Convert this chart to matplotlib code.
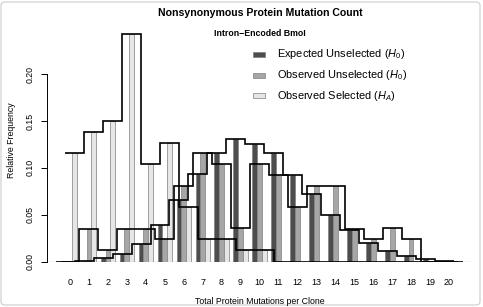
import numpy as np
import matplotlib
matplotlib.use("Agg")
import matplotlib.pyplot as plt
from matplotlib.patches import Rectangle, FancyBboxPatch

# ---- data ----
categories = list(range(21))
tick_labels = [str(c) for c in categories]
expected_unselected = [0.0002, 0.001, 0.0036, 0.008, 0.0185, 0.039, 0.066, 0.094, 0.1156, 0.1305,
                       0.1255, 0.1156, 0.0925, 0.0718, 0.0498, 0.034, 0.0196, 0.0117, 0.006, 0.003, 0.001]
observed_unselected = [0.0, 0.035, 0.0125, 0.035, 0.035, 0.024, 0.081, 0.1156, 0.104, 0.036,
                       0.104, 0.0925, 0.058, 0.0807, 0.0807, 0.0352, 0.024, 0.0356, 0.024, 0.0, 0.0]
observed_selected = [0.1156, 0.1386, 0.1503, 0.2424, 0.104, 0.127, 0.058, 0.024, 0.024, 0.012,
                     0.012, 0.0, 0.0, 0.0, 0.0, 0.0, 0.0, 0.0, 0.0, 0.0, 0.0]
series_names = [r"Expected Unselected ($H_0$)", r"Observed Unselected ($H_0$)", r"Observed Selected ($H_A$)"]

plt.rcParams['font.family'] = ['Liberation Sans', 'DejaVu Sans']
plt.rcParams['mathtext.fontset'] = 'custom'
plt.rcParams['mathtext.rm'] = 'Liberation Sans'
plt.rcParams['mathtext.it'] = 'Liberation Sans:italic'

W, H = 483, 307
fig = plt.figure(figsize=(W / 100, H / 100), dpi=100)

def fx(px):
    return px / W

def fy(py):
    return 1 - py / H

# axes geometry (pixels)
left_px, right_px = 47, 472
bot_px, top_px = 261.7, 27.2
unit = 18.95
x0_px = 70.0
ymax = 0.25
ax = fig.add_axes([fx(left_px), fy(bot_px), fx(right_px) - fx(left_px), fy(top_px) - fy(bot_px)])
ax.set_xlim((left_px - x0_px) / unit, (right_px - x0_px) / unit)
ax.set_ylim(0, ymax)

x = np.array(categories, dtype=float)
bw = 0.25
fills = ['#4d4d4d', '#a6a6a6', '#e6e6e6']
offsets = [-bw, 0.0, bw]
data = [expected_unselected, observed_unselected, observed_selected]

for vals, off, col in zip(data, offsets, fills):
    ax.bar(x + off, vals, width=bw, color=col, edgecolor='#7f7f7f', linewidth=0.5, zorder=2)

for vals, off in zip(data, offsets):
    edges = np.arange(len(vals) + 1) - 0.5 + off
    ax.stairs(vals, edges, baseline=None, color='black', linewidth=1.2, zorder=3)

ax.axhline(0, color='#333333', linewidth=0.8, zorder=1)

for s in ['top', 'right', 'bottom']:
    ax.spines[s].set_visible(False)
ax.spines['left'].set_bounds(0, 0.20)
ax.spines['left'].set_linewidth(0.7)
ax.set_yticks([0, 0.05, 0.10, 0.15, 0.20])
ax.set_yticklabels(['0.00', '0.05', '0.10', '0.15', '0.20'], rotation=90, va='center', fontsize=6.3)
ax.tick_params(axis='y', length=4, width=0.7, pad=5)
ax.set_xticks(x)
ax.set_xticklabels(tick_labels, fontsize=6.5)
ax.tick_params(axis='x', length=0, pad=12)

fig.text(fx(260), fy(13), "Nonsynonymous Protein Mutation Count", ha='center', va='center',
         fontsize=7.6, fontweight='bold')
fig.text(fx(260), fy(33), "Intron\u2212Encoded BmoI", ha='center', va='center',
         fontsize=6.3, fontweight='bold')
fig.text(fx(260), fy(302), "Total Protein Mutations per Clone", ha='center', va='center', fontsize=6.3)
fig.text(fx(12), fy(140), "Relative Frequency", ha='center', va='center', rotation=90, fontsize=6.3)

# legend
leg_y = [54, 75, 96]
for name, col, yy in zip(series_names, fills, leg_y):
    fig.patches.append(Rectangle((fx(253), fy(yy + 2.5)), fx(265) - fx(253), (5 / H),
                                 transform=fig.transFigure, facecolor=col, edgecolor='#7f7f7f',
                                 linewidth=0.5))
    fig.text(fx(277), fy(yy), name, ha='left', va='center', fontsize=7.9)

# figure frame
fig.patches.append(FancyBboxPatch((fx(1), fy(305)), fx(480) - fx(1), (303 / H),
                                  boxstyle='round,pad=0,rounding_size=0.01',
                                  transform=fig.transFigure, facecolor='none',
                                  edgecolor='#cccccc', linewidth=0.8))

fig.savefig('out.png', dpi=100)
